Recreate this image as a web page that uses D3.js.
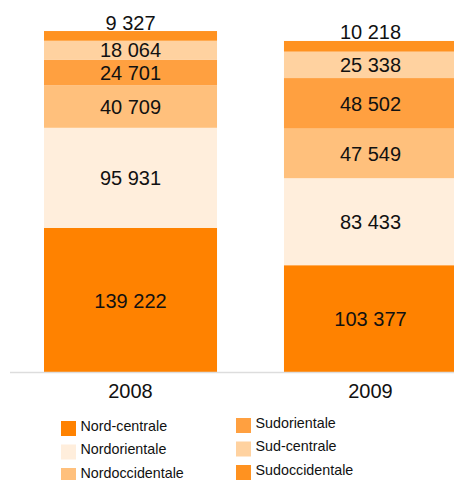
<!DOCTYPE html>
<html lang="it">
<head>
    <meta charset="UTF-8">
    <title>Regioni</title>
    <style>
        body { margin: 0; background: #fff; }
        svg { display: block; font-family: "Liberation Sans", Arial, sans-serif; }
    </style>
</head>
<body>
    <div id="graphArea"></div>
    <script src="https://d3js.org/d3.v7.min.js"></script>
    <script>
        const years = ["2008", "2009"];
        const regions = ["Nord-centrale", "Nordorientale", "Nordoccidentale", "Sudorientale", "Sud-centrale", "Sudoccidentale"];
        const values2008 = [139222, 95931, 40709, 24701, 18064, 9327];
        const values2009 = [103377, 83433, 47549, 48502, 25338, 10218];
        const colors = ["#ff8200", "#ffeedc", "#ffc07c", "#ffa040", "#ffd2a0", "#ff9220"];

        const fmt = v => d3.format(",")(v).replace(/,/g, " ");

        const width = 454, height = 480;
        const svg = d3.select("#graphArea")
            .append("svg")
            .attr("width", width)
            .attr("height", height);

        const rows = years.map((yr, i) => {
            const vals = i === 0 ? values2008 : values2009;
            const r = { year: yr };
            regions.forEach((k, j) => r[k] = vals[j]);
            return r;
        });

        const stack = d3.stack().keys(regions)(rows);

        const x = d3.scaleBand()
            .domain(years)
            .range([44, 457])
            .paddingInner(0.279);

        const y = d3.scaleLinear()
            .domain([0, 330000])
            .range([373, 28.9]);

        const color = d3.scaleOrdinal().domain(regions).range(colors);

        // bars
        svg.append("g")
            .selectAll("g")
            .data(stack)
            .join("g")
            .attr("fill", d => color(d.key))
            .selectAll("rect")
            .data(d => d)
            .join("rect")
            .attr("x", d => x(d.data.year))
            .attr("y", d => y(d[1]))
            .attr("width", x.bandwidth())
            .attr("height", d => y(d[0]) - y(d[1]));

        // axis line
        svg.append("line")
            .attr("x1", 10)
            .attr("x2", width)
            .attr("y1", 372.5)
            .attr("y2", 372.5)
            .attr("stroke", "#dddddd")
            .attr("stroke-width", 1.5);

        // value labels (top segment sits above the bar)
        const last = regions.length - 1;
        stack.forEach((layer, li) => {
            svg.append("g")
                .selectAll("text")
                .data(layer)
                .join("text")
                .attr("x", d => x(d.data.year) + x.bandwidth() / 2)
                .attr("y", d => li === last ? y(d[1]) - 1.5 : (y(d[0]) + y(d[1])) / 2)
                .attr("dy", li === last ? 0 : "0.36em")
                .attr("text-anchor", "middle")
                .attr("font-size", "20px")
                .attr("fill", "#111")
                .text(d => fmt(d[1] - d[0]));
        });

        // year labels
        svg.append("g")
            .selectAll("text")
            .data(years)
            .join("text")
            .attr("x", d => x(d) + x.bandwidth() / 2)
            .attr("y", 398)
            .attr("text-anchor", "middle")
            .attr("font-size", "20px")
            .attr("fill", "#111")
            .text(d => d);

        // legend
        const legend = svg.append("g");
        regions.forEach((k, i) => {
            const col = Math.floor(i / 3), row = i % 3;
            const gx = col === 0 ? 61 : 236;
            const gy = (col === 0 ? 421 : 418) + row * 23.5;
            legend.append("rect")
                .attr("x", gx)
                .attr("y", gy)
                .attr("width", 15)
                .attr("height", 15)
                .attr("fill", color(k));
            legend.append("text")
                .attr("x", gx + 19.5)
                .attr("y", gy + 9.5)
                .attr("font-size", "14.3px")
                .attr("fill", "#111")
                .text(k);
        });
    </script>
</body>
</html>
